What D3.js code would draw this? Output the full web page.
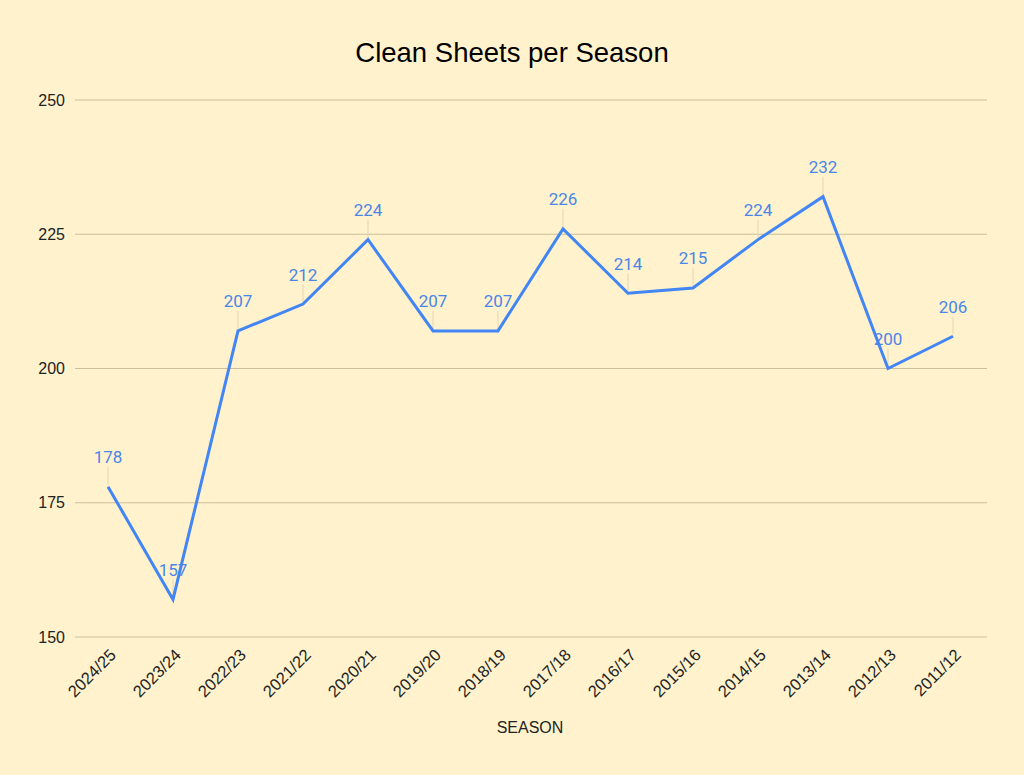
<!DOCTYPE html>
<html><head><meta charset="utf-8">
<script src="https://cdn.jsdelivr.net/npm/d3@7"></script>
<style>body{margin:0;background:#fff2cc;}svg{display:block;}</style>
</head><body>
<script>
const seasons = ["2024/25","2023/24","2022/23","2021/22","2020/21","2019/20","2018/19","2017/18","2016/17","2015/16","2014/15","2013/14","2012/13","2011/12"];
const cleanSheets = [178,157,207,212,224,207,207,226,214,215,224,232,200,206];
const yTicks = [150,175,200,225,250];

const W = 1024, H = 775;
const FONT = "Liberation Sans, Arial, sans-serif";
const svg = d3.select("body").append("svg").attr("width", W).attr("height", H);
svg.append("rect").attr("width", W).attr("height", H).attr("fill", "#fff2cc");

const x = d3.scalePoint().domain(seasons).range([75.5, 985.5]).padding(0.5);
const y = d3.scaleLinear().domain([150, 250]).range([637, 100]);

svg.append("text").attr("x", 512).attr("y", 62).attr("text-anchor", "middle")
  .attr("font-family", FONT).attr("font-size", 27.5).attr("fill", "#000")
  .text("Clean Sheets per Season");

// grid
svg.append("g").selectAll("line").data(yTicks).join("line")
  .attr("x1", 75).attr("x2", 987).attr("y1", d => y(d)).attr("y2", d => y(d))
  .attr("stroke", "#cbbf9d").attr("stroke-width", 1.2);

const yAxis = svg.append("g").attr("transform", "translate(75,0)")
  .call(d3.axisLeft(y).tickValues(yTicks).tickSize(0).tickPadding(10))
  .attr("font-family", FONT).attr("font-size", 16);
yAxis.select(".domain").remove();
yAxis.selectAll("text").attr("fill", "#222");

const xAxis = svg.append("g")
  .call(d3.axisBottom(x).tickSize(0))
  .attr("font-family", FONT).attr("font-size", 16.5);
xAxis.select(".domain").remove();
xAxis.selectAll(".tick").attr("transform", d => `translate(${x(d) + 9},656)`);
xAxis.selectAll("text").attr("fill", "#222")
  .attr("text-anchor", "end").attr("transform", "rotate(-45)").attr("dy", 0).attr("y", 0).attr("x", 0);

svg.append("text").attr("x", 530).attr("y", 733).attr("text-anchor", "middle")
  .attr("font-family", FONT).attr("font-size", 16).attr("fill", "#222")
  .text("SEASON");

const pts = seasons.map((s, i) => ({s, v: cleanSheets[i]}));

// leader lines
svg.append("g").selectAll("line").data(pts).join("line")
  .attr("x1", d => x(d.s)).attr("x2", d => x(d.s))
  .attr("y1", d => y(d.v) - 2).attr("y2", d => y(d.v) - 20)
  .attr("stroke", "#e3d6b3").attr("stroke-width", 1);

svg.append("path").datum(pts)
  .attr("d", d3.line().x(d => x(d.s)).y(d => y(d.v)))
  .attr("fill", "none").attr("stroke", "#4285f4").attr("stroke-width", 3).attr("stroke-linejoin", "miter");

svg.append("g").selectAll("text").data(pts).join("text")
  .attr("x", d => x(d.s)).attr("y", d => y(d.v) - 23.5).attr("text-anchor", "middle")
  .attr("font-family", "Roboto, sans-serif").attr("font-size", 17).attr("fill", "#4a86e8")
  .text(d => d.v);
</script>
</body></html>
